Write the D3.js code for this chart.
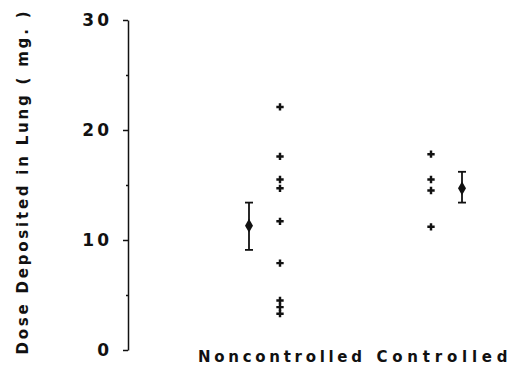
<!DOCTYPE html>
<html><head><meta charset="utf-8">
<script src="https://cdn.jsdelivr.net/npm/d3@7"></script>
<style>body{margin:0;background:#fff}</style>
</head><body>
<svg id="c" width="511" height="367"></svg>
<script>
const categories = ["Noncontrolled", "Controlled"];
const nonControlledValues = [22.1, 17.6, 15.5, 14.7, 11.7, 7.9, 4.5, 3.9, 3.3];
const controlledValues = [17.8, 15.5, 14.5, 11.2];
const means = [11.3, 14.7];
const errLow = [9.1, 13.4];
const errHigh = [13.4, 16.2];
const majorTicks = [0, 10, 20, 30];
const minorTicks = [5, 15, 25];
const yTitle = "Dose Deposited in Lung ( mg. )";

const svg = d3.select("#c");
const font = "'DejaVu Sans', sans-serif";
const y = d3.scaleLinear().domain([0, 30]).range([350, 20]);
const x = d3.scalePoint().domain(categories).range([280, 431]);
const meanOffset = [-31, 31];
const labelOffset = [0, 11];

// axis
const ax = svg.append("g").attr("transform", "translate(128,0)")
  .call(d3.axisLeft(y).tickValues(majorTicks).tickSize(5).tickSizeOuter(0).tickPadding(11).tickFormat(d3.format("d")));
ax.select(".domain").attr("stroke", "#111").attr("stroke-width", 1.5);
ax.selectAll(".tick line").attr("stroke", "#111").attr("stroke-width", 1.5);
ax.selectAll(".tick text").attr("font-family", font).attr("font-weight", "bold")
  .attr("font-size", 17).attr("fill", "#111").attr("letter-spacing", 3);
const axm = svg.append("g").attr("transform", "translate(128,0)")
  .call(d3.axisLeft(y).tickValues(minorTicks).tickSize(2).tickFormat(""));
axm.select(".domain").remove();
axm.selectAll(".tick line").attr("stroke", "#111").attr("stroke-width", 1.5);

// y title
svg.append("text")
  .attr("transform", "translate(28,183) rotate(-90)")
  .attr("text-anchor", "middle")
  .attr("font-family", font).attr("font-weight", "bold").attr("font-size", 15)
  .attr("fill", "#111")
  .attr("textLength", 343).attr("lengthAdjust", "spacing")
  .text(yTitle);

// x labels
svg.selectAll(".xl").data(categories).enter().append("text")
  .attr("x", (d, i) => x(d) + labelOffset[i])
  .attr("y", 362)
  .attr("text-anchor", "middle")
  .attr("font-family", font).attr("font-weight", "bold").attr("font-size", 15)
  .attr("fill", "#111")
  .attr("textLength", (d, i) => i === 0 ? 164 : 131).attr("lengthAdjust", "spacing")
  .text(d => d);

// scatter points
const cross = d3.symbol().type(d3.symbolCross).size(30);
const pts = [];
nonControlledValues.forEach(v => pts.push({c: categories[0], v}));
controlledValues.forEach(v => pts.push({c: categories[1], v}));
svg.selectAll(".pt").data(pts).enter().append("path")
  .attr("d", cross)
  .attr("transform", d => `translate(${x(d.c)},${y(d.v)})`)
  .attr("fill", "#111");

// means with error bars
categories.forEach((c, i) => {
  const cx = x(c) + meanOffset[i];
  const g = svg.append("g").attr("stroke", "#111").attr("stroke-width", 1.8);
  g.append("line").attr("x1", cx).attr("x2", cx).attr("y1", y(errLow[i])).attr("y2", y(errHigh[i]));
  g.append("line").attr("x1", cx - 4).attr("x2", cx + 4).attr("y1", y(errLow[i])).attr("y2", y(errLow[i]));
  g.append("line").attr("x1", cx - 4).attr("x2", cx + 4).attr("y1", y(errHigh[i])).attr("y2", y(errHigh[i]));
  svg.append("path").attr("d", d3.symbol().type(d3.symbolDiamond).size(55))
    .attr("transform", `translate(${cx},${y(means[i])})`).attr("fill", "#111");
});
</script>
</body></html>
